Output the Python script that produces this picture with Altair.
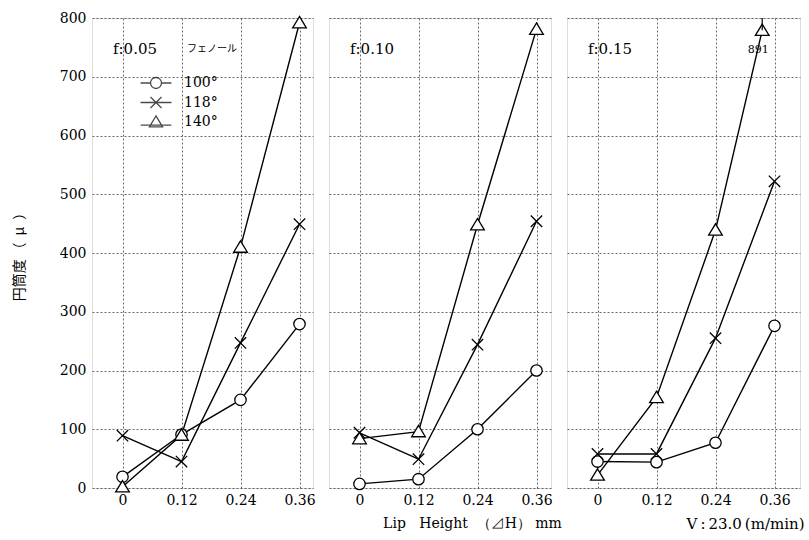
import altair as alt
import pandas as pd

# ---------------- data ----------------
X_TICKS = [0, 0.12, 0.24, 0.36]
ANGLES = ["100°", "118°", "140°"]
PANEL_LABELS = ["f:0.05", "f:0.10", "f:0.15"]
Y_TICKS = [0, 100, 200, 300, 400, 500, 600, 700, 800]

# panel f:0.05
P1_100 = [19, 91, 150, 279]
P1_118 = [89, 45, 247, 449]
P1_140 = [2, 90, 410, 792]
# panel f:0.10
P2_100 = [7, 15, 100, 200]
P2_118 = [94, 49, 244, 454]
P2_140 = [84, 96, 448, 781]
# panel f:0.15 (last 140° point is off-scale: 891, drawn just below the top)
P3_100 = [45, 44, 77, 276]
P3_118 = [58, 58, 255, 522]
P3_140 = [22, 154, 439, 779]
P3_140_X = [0, 0.12, 0.24, 0.335]
OFFSCALE_LABEL = ["891"]
OFFSCALE_TRUE = [891]

MATERIAL = ["フェノール"]
Y_TITLE = "円筒度\u2009（\u2002μ\u2002）"
X_TITLE = "Lip\u00a0\u00a0\u00a0Height\u00a0\u00a0（⊿H）\u00a0mm"
V_TITLE = "V\u2009:\u200923.0\u2009(m/min)"

SERIF = "DejaVu Serif"
CJK = "Noto Sans CJK JP"

# marker shapes (paths in the [-1,1] box)
CIRCLE = "circle"
XMARK = "M-1,-1L1,1M-1,1L1,-1"
TRI = "M0,-1.1L1.2,0.9L-1.2,0.9Z"
# legend symbols: marker with a short line through it
LEG_CIRCLE = "M-2.8,0L-1,0M1,0L2.8,0M-1,0A1,1,0,1,0,1,0A1,1,0,1,0,-1,0"
LEG_X = "M-2.8,0L2.8,0M-1,-1L1,1M-1,1L1,-1"
LEG_TRI = "M-2.8,0.55L2.8,0.55M0,-1.1L1.2,0.9L-1.2,0.9Z"


def make_df(xs_list, ys_list):
    rows = []
    for ang, xs, ys in zip(ANGLES, xs_list, ys_list):
        for i, (xv, yv) in enumerate(zip(xs, ys)):
            rows.append({"x": xv, "y": yv, "angle": ang, "i": i})
    return pd.DataFrame(rows)


df1 = make_df([X_TICKS, X_TICKS, X_TICKS], [P1_100, P1_118, P1_140])
df2 = make_df([X_TICKS, X_TICKS, X_TICKS], [P2_100, P2_118, P2_140])
df3 = make_df([X_TICKS, X_TICKS, P3_140_X], [P3_100, P3_118, P3_140])

LEFT_PX = 30.5   # pixels from panel left edge to x = 0
PX_PER_UNIT = 59 / 0.12


def xscale(width):
    lo = -LEFT_PX / PX_PER_UNIT
    return alt.Scale(domain=[lo, lo + width / PX_PER_UNIT], nice=False, zero=False)


yscale = alt.Scale(domain=[0, 800], nice=False, zero=False)

LABEL_EXPR = "datum.value == 0 ? '0' : format(datum.value, '.2f')"
GRID = dict(gridColor="#444", gridDash=[2, 2], gridWidth=0.8)


def x_axis(title=None, title_size=14, **kw):
    args = dict(values=X_TICKS, labelExpr=LABEL_EXPR, ticks=False, domain=False,
                grid=True, labelFont=SERIF, labelFontSize=14, labelPadding=5,
                labelColor="black", labelFlush=False, labelOverlap=False, **GRID)
    if title is not None:
        args.update(title=title, titleFont=SERIF, titleFontSize=title_size,
                    titleFontWeight="normal", titleColor="black",
                    titleBaseline="middle", **kw)
    else:
        args.update(title=None)
    return alt.Axis(**args)


def y_axis(first):
    args = dict(values=Y_TICKS, ticks=False, domain=False, grid=True, **GRID)
    if first:
        args.update(format="d", labelFont=SERIF, labelFontSize=14, labelPadding=6,
                    labelColor="black", labelFlush=False,
                    title=Y_TITLE, titleFont=CJK, titleFontSize=14,
                    titleFontWeight="normal", titleColor="black", titlePadding=33)
    else:
        args.update(labels=False, title=None)
    return alt.Axis(**args)


def panel(df, width, label, first=False, axis_x=None, extra_fn=None):
    X = alt.X("x:Q", scale=xscale(width), axis=axis_x if axis_x else x_axis())
    Y = alt.Y("y:Q", scale=yscale, axis=y_axis(first))
    base = alt.Chart(df)
    lines = base.mark_line(color="black", strokeWidth=1.4).encode(
        x=X, y=Y, detail="angle:N", order="i:Q")
    pts = base.mark_point(filled=True, fill="white", stroke="black",
                          strokeWidth=1.3, size=130, opacity=1).encode(
        x=X, y=Y,
        shape=alt.Shape("angle:N", scale=alt.Scale(domain=ANGLES,
                                                    range=[CIRCLE, XMARK, TRI]),
                        legend=None))
    lab = alt.Chart(pd.DataFrame({"t": [label]})).mark_text(
        font=SERIF, fontSize=15, align="left", baseline="middle", color="black"
    ).encode(text="t:N", x=alt.value(21), y=alt.value(31))
    layers = [lines, pts, lab]
    if extra_fn is not None:
        layers += extra_fn(X, Y)
    if first:
        leg = base.transform_filter("false").mark_point(
            filled=False, color="black", strokeWidth=1.3).encode(
            x=X, y=Y,
            shape=alt.Shape("angle:N",
                            scale=alt.Scale(domain=ANGLES,
                                            range=[LEG_CIRCLE, LEG_X, LEG_TRI]),
                            legend=alt.Legend(orient="none", legendX=57, legendY=58,
                                              title=None, symbolSize=121,
                                              symbolStrokeColor="black",
                                              symbolFillColor="white",
                                              symbolStrokeWidth=1.3,
                                              labelFont=SERIF, labelFontSize=14,
                                              labelColor="black", labelOffset=21,
                                              rowPadding=1.5, padding=0)))
        return alt.layer(*layers, leg).properties(width=width, height=470).resolve_scale(
            shape="independent")
    return alt.layer(*layers).properties(width=width, height=470)


def p1_extra(X, Y):
    mat = alt.Chart(pd.DataFrame({"t": MATERIAL})).mark_text(
        font=CJK, fontSize=10, align="left", baseline="middle", color="black"
    ).encode(text="t:N", x=alt.value(95), y=alt.value(31))
    return [mat]


def p3_extra(X, Y):
    off_df = pd.DataFrame({"x": [P3_140_X[-1]], "y": [P3_140[-1]],
                           "t": OFFSCALE_LABEL, "true": OFFSCALE_TRUE})
    off_rule = alt.Chart(off_df).mark_rule(color="black", strokeWidth=1.2).encode(
        x=X, y=Y, y2=alt.datum(800))
    off_text = alt.Chart(off_df).mark_text(
        font=SERIF, fontSize=11, align="center", baseline="middle", dx=-4, dy=20,
        color="black").encode(x=X, y=Y, text="t:N")
    return [off_rule, off_text]


p1 = panel(df1, 221, PANEL_LABELS[0], first=True, extra_fn=p1_extra)
p2 = panel(df2, 222, PANEL_LABELS[1],
           axis_x=x_axis(X_TITLE, titleX=143, titleY=35, titleAlign="center"))
p3 = panel(df3, 233, PANEL_LABELS[2],
           axis_x=x_axis(V_TITLE, title_size=15, titleX=237, titleY=35,
                         titleAlign="right"),
           extra_fn=p3_extra)

chart = alt.hconcat(p1, p2, p3, spacing=16, bounds="flush").properties(
    padding={"left": 11, "top": 10, "right": 0, "bottom": 0}
).configure_view(stroke="black", strokeWidth=1.5).configure(background="white")

chart.save("out.html", embed_options={"renderer": "svg", "actions": False})
